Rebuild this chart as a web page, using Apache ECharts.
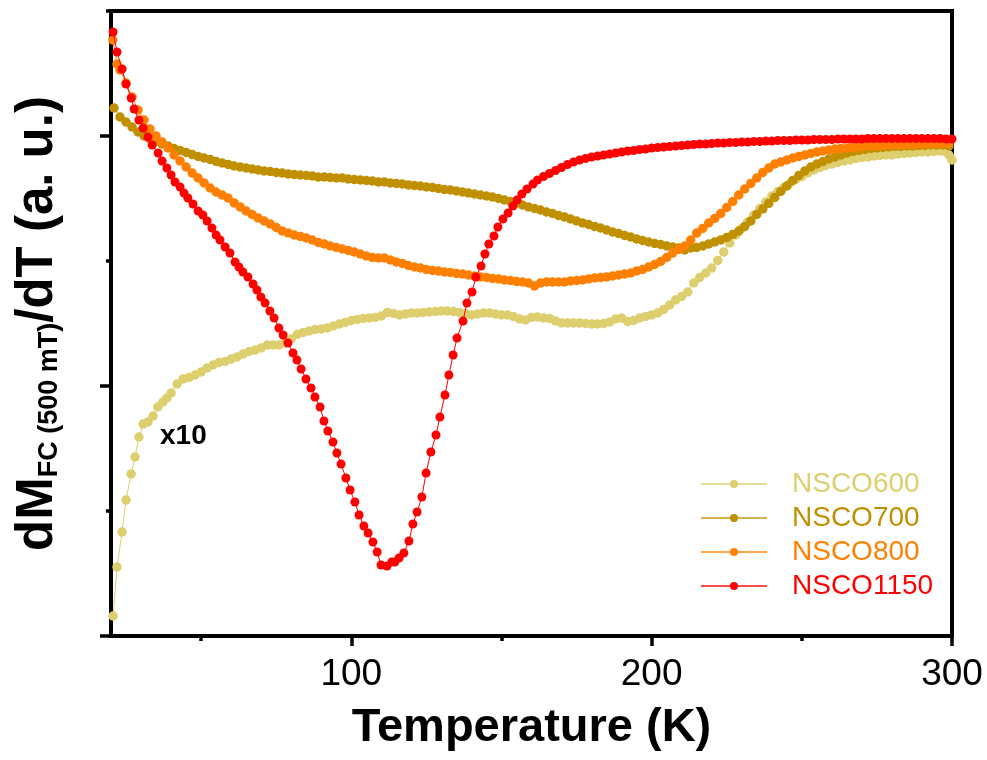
<!DOCTYPE html>
<html>
<head>
<meta charset="utf-8">
<script src="https://cdn.jsdelivr.net/npm/echarts@6/dist/echarts.min.js"></script>
<style>
html,body{margin:0;padding:0;background:#fff;}
#chart{width:987px;height:760px;}
</style>
</head>
<body>
<div id="chart"></div>
<script>
// ---- data (temperature in K, dM/dT in arbitrary units) ----
const seriesNames = ['NSCO600', 'NSCO700', 'NSCO800', 'NSCO1150'];
const seriesColors = ['#DDCE6E', '#C09000', '#FF8000', '#FF0000'];

const xMajorTicks = [100, 200, 300];
const xMinorTicks = [50, 150, 250];
const yMajorTicks = [0, 1, 2];
const yMinorTicks = [0.5, 1.5, 2.5];

const temp600 = [20.7,22.0,23.7,25.0,26.7,28.0,29.3,30.7,32.3,34.0,35.6,37.3,38.6,40.0,
42,44,46,48,50,52,54,56,58,60,62,64,66,68,70,72,74,76,78,80,82,84,86,88,90,92,94,96,98,100,
102,104,106,108,110,112,114,116,118,120,122,124,126,128,130,132,134,136,138,140,142,144,146,148,150,
152,154,156,158,160,162,164,166,168,170,172,174,176,178,180,182,184,186,188,190,192,194,196,198,200,
202,204,206,208,210,212,214,216,218,220,222,224,226,228,230,232,234,236,238,240,242,244,246,248,250,
252,254,256,258,260,262,264,266,268,270,272,274,276,278,280,282,284,286,288,290,292,294,296,298,299,300];
const nsco600 = [0.080,0.276,0.416,0.544,0.648,0.716,0.796,0.848,0.856,0.880,0.916,0.936,0.952,0.972,
1.008,1.028,1.034,1.044,1.056,1.072,1.084,1.094,1.098,1.108,
1.116,1.128,1.138,1.144,1.152,1.164,1.164,1.164,1.172,1.188,
1.206,1.214,1.220,1.226,1.228,1.232,1.240,1.248,1.254,1.262,
1.266,1.270,1.272,1.274,1.280,1.294,1.290,1.284,1.288,1.292,
1.292,1.294,1.296,1.298,1.300,1.300,1.298,1.294,1.290,1.284,
1.288,1.292,1.292,1.288,1.284,1.284,1.278,1.268,1.264,1.274,
1.276,1.272,1.270,1.260,1.252,1.252,1.252,1.252,1.250,1.248,
1.248,1.250,1.256,1.268,1.272,1.258,1.262,1.272,1.278,1.284,
1.292,1.306,1.324,1.344,1.358,1.376,1.412,1.434,1.452,1.472,
1.502,1.536,1.572,1.604,1.630,1.656,1.684,1.710,1.736,1.760,
1.778,1.794,1.810,1.826,1.838,1.852,1.864,1.874,1.882,1.888,
1.894,1.900,1.904,1.910,1.914,1.916,1.920,1.922,1.924,1.924,
1.928,1.930,1.932,1.934,1.936,1.936,1.938,1.940,1.936,1.924,1.904];

const temp700 = [21,23,25,27,29,31,33,35,37,39,41,43,45,47,49,51,53,55,57,59,61,63,65,67,69,71,73,75,77,79,
81,83,85,87,89,91,93,95,97,99,101,103,105,107,109,111,113,115,117,119,121,123,125,127,129,131,133,135,137,139,
141,143,145,147,149,151,153,155,157,159,161,163,165,167,169,171,173,175,177,179,181,183,185,187,189,191,193,195,197,199,
201,203,205,207,209,211,213,215,217,219,221,223,225,227,229,231,233,235,237,239,241,243,245,247,249,251,253,255,257,259,
261,263,265,267,269,271,273,275,277,279,281,283,285,287,289,291,293,295,297,299];
const nsco700 = [2.112,2.076,2.056,2.036,2.016,2.000,1.988,1.978,1.968,1.960,
1.950,1.942,1.934,1.926,1.918,1.912,1.906,1.898,1.892,1.886,
1.880,1.876,1.872,1.868,1.864,1.860,1.858,1.854,1.852,1.848,
1.846,1.844,1.842,1.840,1.836,1.836,1.834,1.832,1.832,1.828,
1.826,1.824,1.822,1.820,1.816,1.816,1.812,1.810,1.808,1.804,
1.802,1.800,1.796,1.794,1.790,1.786,1.784,1.780,1.776,1.772,
1.768,1.764,1.760,1.756,1.750,1.744,1.738,1.732,1.724,1.716,
1.710,1.704,1.696,1.690,1.682,1.676,1.668,1.660,1.652,1.646,
1.638,1.632,1.624,1.616,1.610,1.602,1.596,1.588,1.582,1.576,
1.570,1.566,1.560,1.556,1.552,1.544,1.552,1.554,1.560,1.568,
1.576,1.584,1.594,1.606,1.620,1.638,1.660,1.686,1.708,1.730,
1.754,1.778,1.800,1.822,1.842,1.860,1.876,1.888,1.898,1.908,
1.916,1.924,1.932,1.938,1.942,1.946,1.950,1.952,1.954,1.956,
1.958,1.958,1.960,1.960,1.962,1.962,1.964,1.964,1.964,1.960];

const temp800 = [20.6,22,23,25,27,29,31,33,35,37,39,41,43,45,47,49,51,53,55,57,59,61,63,65,67,69,71,73,75,77,79,
81,83,85,87,89,91,93,95,97,99,101,103,105,107,109,111,113,115,117,119,121,123,125,127,129,131,133,135,137,139,
141,143,145,147,149,151,153,155,157,159,161,163,165,167,169,171,173,175,177,179,181,183,185,187,189,191,193,195,197,199,
201,203,205,207,209,211,213,215,217,219,221,223,225,227,229,231,233,235,237,239,241,243,245,247,249,251,253,255,257,259,
261,263,265,267,269,271,273,275,277,279,281,283,285,287,289,291,293,295,297,299];
const nsco800 = [2.384,2.288,2.264,2.212,2.156,2.104,2.064,2.028,2.000,1.976,1.952,
1.924,1.900,1.876,1.852,1.832,1.812,1.792,1.776,1.764,1.752,
1.732,1.716,1.700,1.686,1.672,1.660,1.648,1.634,1.620,1.612,
1.604,1.598,1.592,1.584,1.574,1.568,1.560,1.554,1.548,1.542,
1.536,1.528,1.520,1.514,1.512,1.512,1.504,1.496,1.490,1.482,
1.476,1.472,1.466,1.462,1.460,1.456,1.454,1.450,1.448,1.444,
1.440,1.436,1.434,1.430,1.428,1.424,1.422,1.418,1.416,1.412,
1.400,1.412,1.416,1.416,1.416,1.416,1.420,1.422,1.424,1.428,
1.432,1.434,1.436,1.440,1.444,1.448,1.452,1.460,1.466,1.476,
1.486,1.498,1.514,1.532,1.546,1.560,1.584,1.612,1.630,1.652,
1.670,1.690,1.714,1.738,1.764,1.788,1.810,1.832,1.854,1.872,
1.888,1.896,1.904,1.912,1.918,1.924,1.930,1.936,1.940,1.944,
1.948,1.950,1.952,1.954,1.956,1.958,1.960,1.960,1.962,1.964,
1.964,1.964,1.966,1.966,1.968,1.968,1.968,1.970,1.970,1.972];

const temp1150 = [20.7,22.0,23.7,25.0,26.7,27.7,29.3,30.7,32.3,33.7,35.7,37.0,38.6,40.0,41.3,43.0,44.3,45.6,47.3,49.0,
50.6,52.0,53.6,55.0,56.3,58.0,59.6,61.3,62.6,63.9,65.6,67.3,68.6,69.9,71.3,72.9,74.3,75.9,77.3,78.9,
80.6,81.9,83.3,84.9,86.6,87.9,89.6,90.9,92.2,93.9,95.2,96.6,98.2,99.6,101.2,102.6,104.2,105.6,107.2,108.6,
109.9,111.9,113.5,114.5,115.9,117.5,119.2,120.5,121.9,123.5,124.9,126.5,128.2,129.5,131.2,132.5,133.9,135.2,137.2,138.5,
140.2,141.5,143.2,144.5,145.8,147.5,148.8,150.5,152.2,153.8,155.2,156.8,158.5,160.5,
162,164,166,168,170,172,174,176,178,180,182,184,186,188,190,192,194,196,198,200,
202,204,206,208,210,212,214,216,218,220,222,224,226,228,230,232,234,236,238,240,
242,244,246,248,250,252,254,256,258,260,262,264,266,268,270,272,274,276,278,280,
282,284,286,288,290,292,294,296,298,300];
const nsco1150 = [2.416,2.336,2.268,2.208,2.152,2.108,2.064,2.032,1.996,1.964,
1.932,1.900,1.872,1.844,1.816,1.796,1.772,1.752,1.728,1.700,
1.684,1.660,1.632,1.604,1.584,1.556,1.532,1.496,1.476,1.456,
1.436,1.408,1.384,1.356,1.332,1.300,1.272,1.232,1.204,1.172,
1.132,1.104,1.068,1.028,0.992,0.956,0.916,0.860,0.820,0.776,
0.732,0.688,0.632,0.584,0.536,0.484,0.440,0.412,0.376,0.336,
0.284,0.280,0.296,0.296,0.312,0.332,0.380,0.448,0.496,0.556,
0.652,0.736,0.804,0.876,0.964,1.044,1.124,1.192,1.260,1.332,
1.376,1.436,1.480,1.528,1.568,1.600,1.636,1.668,1.692,1.720,
1.744,1.768,1.788,1.808,
1.824,1.838,1.850,1.862,1.874,1.886,1.896,1.904,1.910,1.916,
1.920,1.924,1.928,1.932,1.936,1.940,1.942,1.946,1.948,1.952,
1.954,1.956,1.958,1.960,1.962,1.964,1.966,1.968,1.968,1.970,
1.972,1.972,1.974,1.974,1.976,1.976,1.978,1.978,1.980,1.980,
1.982,1.982,1.982,1.984,1.984,1.984,1.986,1.986,1.986,1.986,
1.988,1.988,1.988,1.988,1.988,1.990,1.990,1.990,1.990,1.990,
1.990,1.990,1.990,1.990,1.990,1.990,1.990,1.990,1.988,1.988];

// ---- build ----
const FONT = 'Arial, "Liberation Sans", Helvetica, sans-serif';
function pairs(t, v) {
  const n = Math.min(t.length, v.length);
  const out = [];
  for (let i = 0; i < n; i++) out.push([t[i], v[i]]);
  return out;
}
const allTemps = [temp600, temp700, temp800, temp1150];
const allVals = [nsco600, nsco700, nsco800, nsco1150];
const symbolSizes = [9.5, 9.5, 9.5, 9];

const series = seriesNames.map((name, i) => ({
  type: 'line',
  name: name,
  data: pairs(allTemps[i], allVals[i]),
  xAxisIndex: 0,
  yAxisIndex: 0,
  symbol: 'circle',
  symbolSize: symbolSizes[i],
  showSymbol: true,
  lineStyle: { color: seriesColors[i], width: 1 },
  itemStyle: { color: seriesColors[i] },
  emphasis: { disabled: true },
  z: 2 + i,
  animation: false
}));

const chart = echarts.init(document.getElementById('chart'), null, { renderer: 'canvas' });
chart.setOption({
  animation: false,
  backgroundColor: '#fff',
  grid: { left: 111, right: 35, top: 11, bottom: 124, show: true, borderColor: '#000', borderWidth: 4, containLabel: false, outerBoundsMode: 'none' },
  xAxis: [
    {
      type: 'value', min: 20, max: 300, position: 'bottom',
      axisLine: { show: true, lineStyle: { color: '#000', width: 4 } },
      axisTick: { show: true, length: 10, inside: false, customValues: xMajorTicks, lineStyle: { color: '#000', width: 3.5 } },
      axisLabel: { show: true, customValues: xMajorTicks, fontSize: 37, color: '#000', margin: 20, fontFamily: FONT },
      splitLine: { show: false },
      name: 'Temperature (K)', nameLocation: 'middle', nameGap: 69,
      nameTextStyle: { fontSize: 47, fontWeight: 'bold', color: '#000', fontFamily: FONT }
    },
    {
      type: 'value', min: 20, max: 300, position: 'bottom',
      axisLine: { show: false },
      axisTick: { show: true, length: 5, customValues: xMinorTicks, lineStyle: { color: '#000', width: 3.5 } },
      axisLabel: { show: false },
      splitLine: { show: false }
    }
  ],
  yAxis: [
    {
      type: 'value', min: 0, max: 2.5, position: 'left',
      axisLine: { show: true, lineStyle: { color: '#000', width: 4 } },
      axisTick: { show: true, length: 11, customValues: yMajorTicks, lineStyle: { color: '#000', width: 3.5 } },
      axisLabel: { show: false },
      splitLine: { show: false },
      name: '{a|dM}{b|FC (500 mT)}{a|/dT (a. u.)}',
      nameLocation: 'middle', nameRotate: 90, nameGap: 48,
      nameTextStyle: {
        color: '#000',
        rich: {
          a: { fontSize: 51, fontWeight: 'bold', fontFamily: FONT, color: '#000', lineHeight: 51, verticalAlign: 'top' },
          b: { fontSize: 27, fontWeight: 'bold', fontFamily: FONT, color: '#000', lineHeight: 27, padding: [32, 0, 0, 0], verticalAlign: 'bottom' }
        }
      }
    },
    {
      type: 'value', min: 0, max: 2.5, position: 'left',
      axisLine: { show: false },
      axisTick: { show: true, length: 5, customValues: yMinorTicks, lineStyle: { color: '#000', width: 3.5 } },
      axisLabel: { show: false },
      splitLine: { show: false }
    }
  ],
  legend: {
    orient: 'vertical', left: 700, top: 469, padding: 0,
    itemWidth: 66, itemHeight: 10, itemGap: 4,
    selectedMode: false,
    lineStyle: { opacity: 0.7 },
    textStyle: { fontSize: 28, fontFamily: FONT, padding: [0, 0, 0, 20], lineHeight: 30 },
    data: seriesNames.map((n, i) => ({ name: n, textStyle: { color: seriesColors[i] } }))
  },
  graphic: [
    { type: 'text', x: 160, y: 436, style: { text: 'x10', font: 'bold 28px ' + FONT, fill: '#000', verticalAlign: 'middle' } }
  ],
  series: series
});
</script>
</body>
</html>
